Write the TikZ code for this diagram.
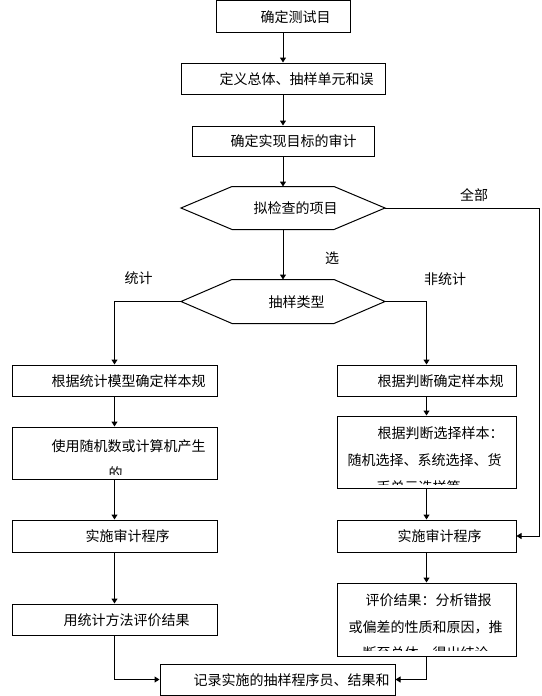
\documentclass[tikz,border=0pt]{standalone}
\usepackage{fontspec}
\newfontfamily\cjk{Noto Sans CJK SC}
\usetikzlibrary{arrows.meta}
\begin{document}
\begin{tikzpicture}[x=1pt,y=-1pt,line width=1pt,
  box/.style={draw,rectangle,inner sep=0pt,line width=1pt},
  hexbb/.style={rectangle,inner sep=0pt,minimum width=203pt},
  txt/.style={anchor=west,inner sep=0pt,font=\cjk\fontsize{14}{14}\selectfont},
  lbl/.style={inner sep=0pt,font=\cjk\fontsize{14}{14}\selectfont},
  arr/.style={-{Triangle[width=6pt,length=5pt]}},
  conn/.style={line width=1pt}]
\useasboundingbox (0,0) rectangle (541,696);
\fill[white] (0,0) rectangle (541,696);

% top boxes
\node[box,minimum width=134pt,minimum height=32pt] (b1) at (283,16.5) {};
\node[txt] (t1) at (260,17) {确定测试目};
\node[box,minimum width=204pt,minimum height=31pt] (b2) at (283,78.5) {};
\node[txt] (t2) at (219,79) {定义总体、抽样单元和误};
\node[box,minimum width=182pt,minimum height=30pt] (b3) at (283,141) {};
\node[txt] (t3) at (230,141) {确定实现目标的审计};

% hexagons
\node[hexbb,minimum height=42pt] (h1) at (283,208) {};
\draw (h1.west) -- ([xshift=51pt]h1.north west) -- ([xshift=-51pt]h1.north east) -- (h1.east)
      -- ([xshift=-51pt]h1.south east) -- ([xshift=51pt]h1.south west) -- cycle;
\node[txt] (t4) at (253,208) {拟检查的项目};
\node[hexbb,minimum height=43pt] (h2) at (283,301.5) {};
\draw (h2.west) -- ([xshift=51pt]h2.north west) -- ([xshift=-51pt]h2.north east) -- (h2.east)
      -- ([xshift=-51pt]h2.south east) -- ([xshift=51pt]h2.south west) -- cycle;
\node[txt] (t5) at (268,302) {抽样类型};

% labels
\node[lbl] (la) at (474,195) {全部};
\node[lbl] (lb) at (332,258) {选};
\node[lbl] (lc) at (445,279) {非统计};
\node[lbl] (ld) at (138.5,278) {统计};

% left column
\node[box,minimum width=205pt,minimum height=31pt] (l1) at (114.5,380.5) {};
\node[txt] (tl1) at (51,381) {根据统计模型确定样本规};
\node[box,minimum width=205pt,minimum height=52pt] (l2) at (114.5,453) {};
\begin{scope}
\clip (13,428) rectangle (216,474);
\node[txt] (tl2a) at (51,446) {使用随机数或计算机产生};
\node[txt] (tl2b) at (108,473) {的};
\end{scope}
\node[box,minimum width=205pt,minimum height=32pt] (l3) at (114.5,536) {};
\node[txt] (tl3) at (85,536) {实施审计程序};
\node[box,minimum width=205pt,minimum height=31pt] (l4) at (114.5,619.5) {};
\node[txt] (tl4) at (63,620) {用统计方法评价结果};

% right column
\node[box,minimum width=179pt,minimum height=31pt] (r1) at (426.5,380.5) {};
\node[txt] (tr1) at (377,381) {根据判断确定样本规};
\node[box,minimum width=179pt,minimum height=72pt] (r2) at (426.5,452) {};
\begin{scope}
\clip (338,417) rectangle (515,484.5);
\node[txt] (tr2a) at (377,433) {根据判断选择样本：};
\node[txt] (tr2b) at (347,460) {随机选择、系统选择、货};
\node[txt] (tr2c) at (376,487) {币单元选样等};
\end{scope}
\node[box,minimum width=179pt,minimum height=32pt] (r3) at (426.5,536) {};
\node[txt] (tr3) at (397,536) {实施审计程序};
\node[box,minimum width=179pt,minimum height=73pt] (r4) at (426.5,619.5) {};
\begin{scope}
\clip (338,584) rectangle (515,650.5);
\node[txt] (tr4a) at (365,600) {评价结果：分析错报};
\node[txt] (tr4b) at (348,627) {或偏差的性质和原因，推};
\node[txt] (tr4c) at (362,653) {断至总体，得出结论};
\end{scope}

% bottom box
\node[box,minimum width=235pt,minimum height=31pt] (bt) at (277.5,679.5) {};
\node[txt] (tb) at (193,680) {记录实施的抽样程序员、结果和};

% connectors
\coordinate (cR) at (539,208);
\draw[conn,arr] (b1) -- (b2);
\draw[conn,arr] (b2) -- (b3);
\draw[conn,arr] (b3) -- (h1);
\draw[conn,arr] (h1) -- (h2);
\draw[conn,arr] (h2.west) -| (l1.north);
\draw[conn,arr] (h2.east) -| (r1.north);
\draw[conn,arr] (h1.east) -- (cR) |- (r3.east);
\draw[conn,arr] (l1) -- (l2);
\draw[conn,arr] (l2) -- (l3);
\draw[conn,arr] (l3) -- (l4);
\draw[conn,arr] (r1) -- (r2);
\draw[conn,arr] (r2) -- (r3);
\draw[conn,arr] (r3) -- (r4);
\draw[conn,arr] (l4.south) |- (bt.west);
\draw[conn,arr] (r4.south) |- (bt.east);
\end{tikzpicture}
\end{document}
